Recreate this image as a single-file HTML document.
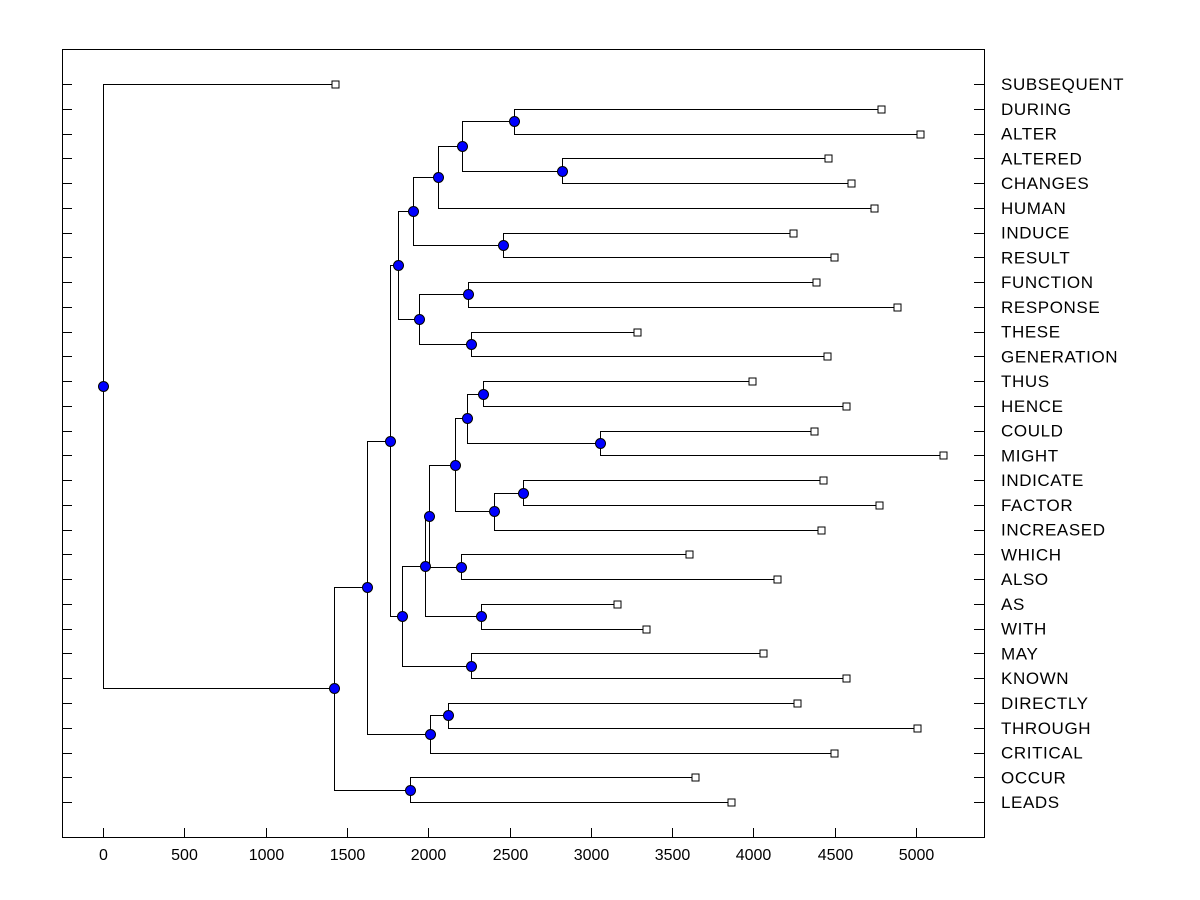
<!DOCTYPE html>
<html><head><meta charset="utf-8"><style>
html,body{margin:0;padding:0;background:#fff;}
svg{display:block;font-family:"Liberation Sans",Arial,sans-serif;}
</style></head><body>
<svg id="chart" width="1200" height="900" viewBox="0 0 1200 900" xmlns="http://www.w3.org/2000/svg">
<rect x="0" y="0" width="1200" height="900" fill="#fff"/>
<rect x="62.5" y="49.5" width="922" height="788" fill="none" stroke="#000" stroke-width="1"/>
<g id="links"></g><g id="marks"></g><g id="labels"></g><g id="ticks"></g>
</svg>
<script>
const leafNames = ["SUBSEQUENT","DURING","ALTER","ALTERED","CHANGES","HUMAN","INDUCE","RESULT","FUNCTION","RESPONSE","THESE","GENERATION","THUS","HENCE","COULD","MIGHT","INDICATE","FACTOR","INCREASED","WHICH","ALSO","AS","WITH","MAY","KNOWN","DIRECTLY","THROUGH","CRITICAL","OCCUR","LEADS"];
const leafHeights = [1427,4785,5025,4459,4600,4742,4244,4496,4385,4883,3284,4453,3991,4569,4373,5166,4428,4772,4416,3604,4145,3161,3339,4059,4569,4268,5006,4496,3641,3862];
const mergeLeft = [1,3,30,32,6,33,8,10,36,35,12,14,40,16,43,42,19,45,21,47,23,49,39,25,53,52,28,55,0];
const mergeRight = [2,4,31,5,7,34,9,11,37,38,13,15,41,17,18,44,20,46,22,48,24,50,51,26,27,54,29,56,57];
const mergeHeights = [2528,2823,2208,2060,2460,1907,2245,2263,1943,1814,2337,3057,2239,2583,2405,2165,2202,2005,2325,1980,2263,1839,1765,2122,2011,1624,1888,1420,0];
const xTicks = [0,500,1000,1500,2000,2500,3000,3500,4000,4500,5000];

const NS = "http://www.w3.org/2000/svg";
const xScale = v => 103 + v * 0.16262;
const yScale = i => 84 + i * 24.76;
const px = v => Math.round(v) + 0.5;
function mk(tag, attrs, parent){const e=document.createElementNS(NS,tag);for(const k in attrs)e.setAttribute(k,attrs[k]);parent.appendChild(e);return e;}
const links=document.getElementById('links'),marks=document.getElementById('marks'),labels=document.getElementById('labels'),ticks=document.getElementById('ticks');

const nx=[],ny=[];
leafNames.forEach((n,i)=>{nx[i]=xScale(leafHeights[i]);ny[i]=yScale(i);});
const L=leafNames.length;
mergeLeft.forEach((a,j)=>{
  const b=mergeRight[j], id=L+j;
  nx[id]=xScale(mergeHeights[j]);
  ny[id]=(ny[a]+ny[b])/2;
  const x=px(nx[id]);
  const p=mk('path',{d:`M${px(nx[a])},${px(ny[a])}H${x}V${px(ny[b])}H${px(nx[b])}`,fill:'none',stroke:'#000','stroke-width':1},links);
  
  
});
mergeLeft.forEach((a,j)=>{
  const id=L+j;
  const c=mk('circle',{cx:px(nx[id]),cy:px(ny[id]),r:5,fill:'#0000ff',stroke:'#000','stroke-width':1},marks);
  
  
});
leafNames.forEach((n,i)=>{
  const r=mk('rect',{x:px(nx[i])-3.5,y:px(ny[i])-3.5,width:7,height:7,fill:'#fff',stroke:'#000','stroke-width':1},marks);
  
  
  const t=mk('text',{x:1001,y:ny[i]+6,'font-size':17,'letter-spacing':0.6,fill:'#000'},labels);
  t.textContent=n;
  
  
  const tl=mk('line',{x1:62,x2:72,y1:px(ny[i]),y2:px(ny[i]),stroke:'#000'},ticks);
  
  
  const tr=mk('line',{x1:974,x2:984,y1:px(ny[i]),y2:px(ny[i]),stroke:'#000'},ticks);
  
  
});
xTicks.forEach(v=>{
  const x=px(xScale(v));
  const tk=mk('line',{x1:x,x2:x,y1:828,y2:837,stroke:'#000'},ticks);
  
  
  const t=mk('text',{x:x,y:860,'font-size':16,'text-anchor':'middle',fill:'#000'},ticks);
  t.textContent=String(v);
  
  
});
</script>
</body></html>
